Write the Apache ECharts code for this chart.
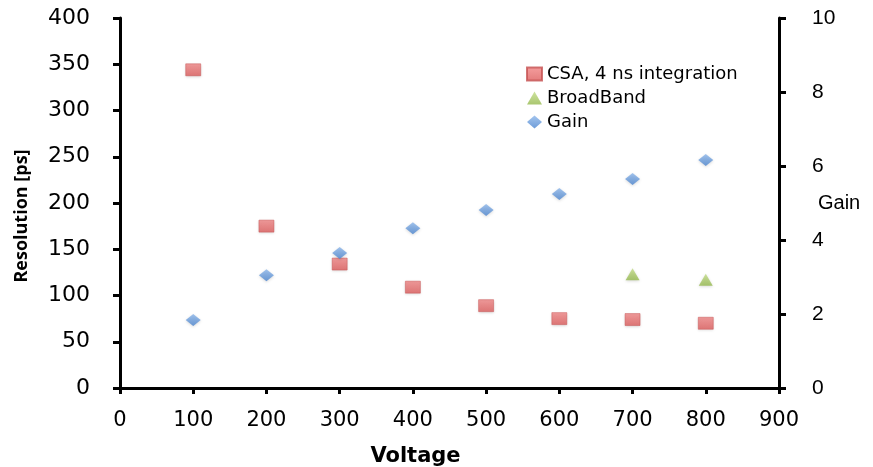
<!DOCTYPE html>
<html>
<head>
<meta charset="utf-8">
<script src="https://cdn.jsdelivr.net/npm/echarts@6/dist/echarts.min.js"></script>
<style>
html,body{margin:0;padding:0;background:#fff;}
#chart{width:873px;height:467px;}
</style>
</head>
<body>
<div id="chart"></div>
<script>
// Voltage settings and measured values
const voltage = [100, 200, 300, 400, 500, 600, 700, 800];
const csaResolution = [344, 175, 134, 109, 89, 75, 74, 70];
const broadbandVoltage = [700, 800];
const broadbandResolution = [123, 117];
const gainValues = [1.84, 3.05, 3.65, 4.32, 4.81, 5.24, 5.65, 6.16];

const pair = (xs, ys) => xs.map((x, i) => [x, ys[i]]);

const tickFont = '"DejaVu Sans", sans-serif';
const rightFont = '"Liberation Sans", Arial, sans-serif';
const axisLineStyle = { color: '#000', width: 3 };

const chart = echarts.init(document.getElementById('chart'));
chart.setOption({
  animation: false,
  grid: { left: 120, right: 94, top: 18, bottom: 79, containLabel: false, outerBoundsMode: 'none' },
  legend: {
    orient: 'vertical',
    left: 521,
    top: 60,
    itemGap: 6,
    itemWidth: 15,
    itemHeight: 13,
    textStyle: { fontFamily: tickFont, fontSize: 18, color: '#000' },
    data: ['CSA, 4 ns integration', 'BroadBand', 'Gain']
  },
  xAxis: {
    type: 'value',
    min: 0, max: 900, interval: 100,
    name: 'Voltage',
    nameLocation: 'middle',
    nameGap: 58,
    nameTextStyle: { fontFamily: '"DejaVu Sans", sans-serif', fontWeight: 'bold', fontSize: 21, color: '#000', padding: [0, 68, 0, 0] },
    axisLine: { lineStyle: axisLineStyle },
    axisTick: { lineStyle: axisLineStyle, length: 6 },
    axisLabel: { fontFamily: tickFont, fontSize: 21, color: '#000', margin: 22 },
    splitLine: { show: false }
  },
  yAxis: [
    {
      type: 'value',
      min: 0, max: 400, interval: 50,
      name: 'Resolution [ps]',
      nameLocation: 'middle',
      nameRotate: 90,
      nameGap: 89,
      nameTextStyle: { fontFamily: '"Open Sans", sans-serif', fontWeight: 'bold', fontSize: 18, color: '#000', padding: [0, 26, 0, 0] },
      axisLine: { show: true, lineStyle: axisLineStyle },
      axisTick: { show: true, lineStyle: axisLineStyle, length: 7 },
      axisLabel: { fontFamily: tickFont, fontSize: 22, color: '#000', margin: 30 },
      splitLine: { show: false }
    },
    {
      type: 'value',
      position: 'right',
      min: 0, max: 10, interval: 2,
      name: 'Gain',
      nameLocation: 'middle',
      nameRotate: 0,
      nameGap: 39,
      nameMoveOverlap: false,
      nameTextStyle: { fontFamily: rightFont, fontSize: 20, color: '#000', align: 'left', padding: [22, 0, 0, 0] },
      axisLine: { show: true, lineStyle: axisLineStyle },
      axisTick: { show: true, lineStyle: axisLineStyle, length: 7 },
      axisLabel: { fontFamily: rightFont, fontSize: 21, color: '#000', margin: 33 },
      splitLine: { show: false }
    }
  ],
  series: [
    {
      name: 'CSA, 4 ns integration',
      type: 'scatter',
      yAxisIndex: 0,
      symbol: 'rect',
      symbolSize: [15, 12],
      itemStyle: {
        color: new echarts.graphic.LinearGradient(0, 0, 0, 1, [
          { offset: 0, color: '#f28686' },
          { offset: 1, color: '#dc5a5a' }
        ]),
        borderColor: '#c65252', borderWidth: 0.6,
        shadowColor: 'rgba(0,0,0,0.18)', shadowBlur: 3, shadowOffsetY: 1
      },
      data: pair(voltage, csaResolution)
    },
    {
      name: 'BroadBand',
      type: 'scatter',
      yAxisIndex: 0,
      symbol: 'triangle',
      symbolSize: [14, 12],
      itemStyle: {
        color: new echarts.graphic.LinearGradient(0, 0, 0, 1, [
          { offset: 0, color: '#c2dc86' },
          { offset: 1, color: '#94b84c' }
        ]),
        shadowColor: 'rgba(0,0,0,0.18)', shadowBlur: 3, shadowOffsetY: 1
      },
      data: pair(broadbandVoltage, broadbandResolution)
    },
    {
      name: 'Gain',
      type: 'scatter',
      yAxisIndex: 1,
      symbol: 'diamond',
      symbolSize: [15, 12],
      itemStyle: {
        color: new echarts.graphic.LinearGradient(0, 0, 0, 1, [
          { offset: 0, color: '#8cb6ea' },
          { offset: 1, color: '#4a84cf' }
        ]),
        shadowColor: 'rgba(0,0,0,0.18)', shadowBlur: 3, shadowOffsetY: 1
      },
      data: pair(voltage, gainValues)
    }
  ]
});
</script>
</body>
</html>
